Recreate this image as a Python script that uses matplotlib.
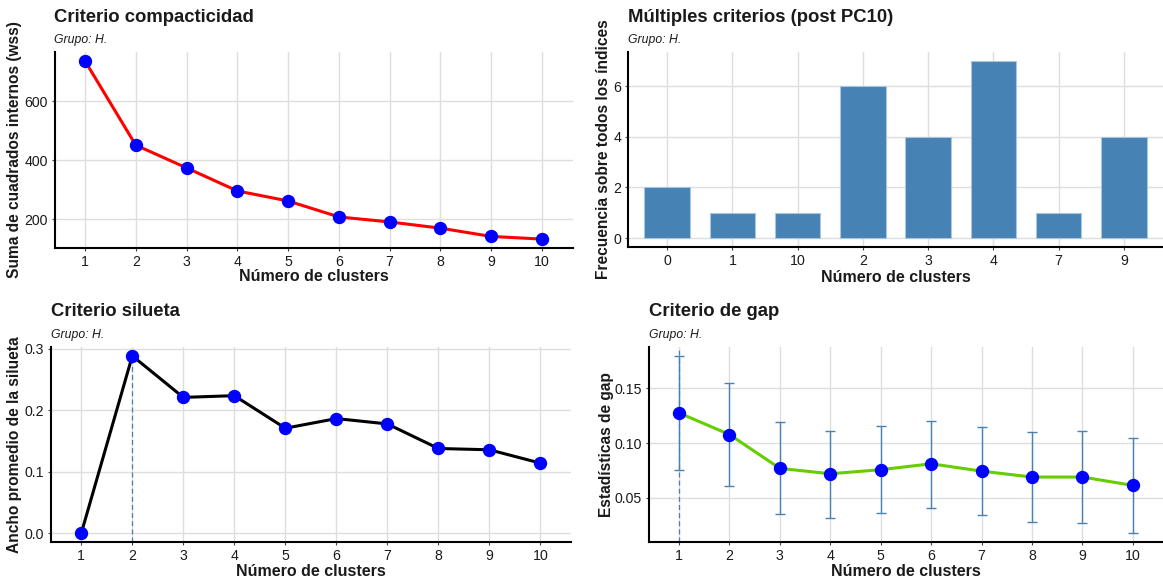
import numpy as np
import matplotlib
matplotlib.use("Agg")
import matplotlib.pyplot as plt

plt.rcParams['font.family'] = ['Liberation Sans', 'DejaVu Sans']

# ---- data ----
k_values = [1, 2, 3, 4, 5, 6, 7, 8, 9, 10]
wss = [736, 451, 374, 296, 262, 208, 191, 170, 142, 133]

nb_categories = ["0", "1", "10", "2", "3", "4", "7", "9"]
nb_counts = [2, 1, 1, 6, 4, 7, 1, 4]

silhouette = [0.0, 0.2886, 0.221, 0.2238, 0.1708, 0.1865, 0.1778, 0.1378, 0.1357, 0.114]
sil_best_k = 2

gap = [0.1276, 0.1079, 0.0770, 0.0721, 0.0758, 0.0812, 0.0745, 0.0691, 0.0691, 0.0615]
gap_low = [0.0752, 0.0606, 0.0352, 0.0318, 0.0361, 0.0412, 0.0345, 0.0285, 0.0270, 0.0179]
gap_high = [0.1797, 0.1552, 0.1194, 0.1115, 0.1161, 0.1206, 0.1148, 0.1100, 0.1109, 0.1048]
gap_best_k = 1

subtitle = "Grupo: H."
xlab = "Número de clusters"

# ---- style ----
W, H = 1163, 581
BLUE = "#0000FF"
STEEL = "#4682B4"
GRID = "#dedede"
TXT = "#1a1a1a"

fig = plt.figure(figsize=(W / 100, H / 100), dpi=100)
fig.patch.set_facecolor("white")


def add_axes_px(left, right, top, bottom):
    return fig.add_axes([left / W, (H - bottom) / H, (right - left) / W, (bottom - top) / H])


def style(ax, title, ylabel, ytop_px, left_px, bottom_px, height_px, ylab_x_px, xlab_y_px):
    ax.set_facecolor("white")
    for s in ("top", "right"):
        ax.spines[s].set_visible(False)
    for s in ("left", "bottom"):
        ax.spines[s].set_linewidth(1.5)
        ax.spines[s].set_color("black")
    ax.grid(True, color=GRID, linewidth=1.0)
    ax.set_axisbelow(True)
    ax.tick_params(axis="both", length=2.5, width=0.8, color="#444444",
                   labelsize=10.2, labelcolor=TXT, pad=2.5)
    ax.set_xlabel(xlab, fontsize=11.5, fontweight="bold", color=TXT)
    ax.set_ylabel(ylabel, fontsize=11.2, fontweight="bold", color=TXT)
    ax.xaxis.set_label_coords(0.5, -(xlab_y_px - bottom_px) / height_px)
    ax.xaxis.label.set_va("center")
    width_px = ax.get_position().width * W
    ax.yaxis.set_label_coords(-(left_px - ylab_x_px) / width_px, 0.5)
    ax.yaxis.label.set_va("center")
    fig.text(left_px / W, 1 - ytop_px / H, title, fontsize=13.3, fontweight="bold",
             color=TXT, ha="left", va="center")
    fig.text(left_px / W, 1 - (ytop_px + 23) / H, subtitle, fontsize=8.8,
             style="italic", color=TXT, ha="left", va="center")


def expand(lo, hi, frac=0.05):
    r = hi - lo
    return lo - frac * r, hi + frac * r


# ---- Panel 1: elbow ----
ax1 = add_axes_px(54.5, 572.5, 52, 248)
ax1.plot(k_values, wss, color="#FF0000", linewidth=2.2, zorder=2)
ax1.plot(k_values, wss, "o", color=BLUE, markersize=8.6, zorder=3)
ax1.set_xlim(0.4, 10.6)
ax1.set_ylim(*expand(min(wss), max(wss)))
ax1.set_xticks(k_values)
ax1.set_yticks([200, 400, 600])
style(ax1, "Criterio compacticidad", "Suma de cuadrados internos (wss)",
      17, 54.5, 248, 196, 15, 277)

# ---- Panel 2: NbClust votes ----
ax2 = add_axes_px(628, 1163, 52, 247)
ax2.bar(nb_categories, nb_counts, width=0.7, color=STEEL,
        edgecolor="#a9c5df", linewidth=0.8, zorder=2)
ax2.set_xlim(-0.6, len(nb_categories) - 0.4)
ax2.set_ylim(*expand(0, max(nb_counts)))
ax2.set_yticks([0, 2, 4, 6])
style(ax2, "Múltiples criterios (post PC10)", "Frecuencia sobre todos los índices",
      17, 628, 247, 195, 604, 277)

# ---- Panel 3: silhouette ----
ax3 = add_axes_px(50.7, 571, 347, 542)
ax3.axvline(sil_best_k, color=STEEL, linestyle=(0, (4, 2.5)), linewidth=0.9, zorder=1)
ax3.plot(k_values, silhouette, color="black", linewidth=2.2, zorder=2)
ax3.plot(k_values, silhouette, "o", color=BLUE, markersize=8.6, zorder=3)
ax3.set_xlim(0.4, 10.6)
ax3.set_ylim(*expand(min(silhouette), max(silhouette)))
ax3.set_xticks(k_values)
ax3.set_yticks([0.0, 0.1, 0.2, 0.3])
ax3.set_yticklabels(["0.0", "0.1", "0.2", "0.3"])
style(ax3, "Criterio silueta", "Ancho promedio de la silueta",
      312, 50.7, 542, 195, 15, 572)

# ---- Panel 4: gap statistic ----
ax4 = add_axes_px(648.8, 1163, 347, 542)
ax4.axvline(gap_best_k, color=STEEL, linestyle=(0, (4, 2.5)), linewidth=0.9, zorder=1)
gap_arr = np.array(gap)
yerr = np.vstack([gap_arr - np.array(gap_low), np.array(gap_high) - gap_arr])
ax4.errorbar(k_values, gap, yerr=yerr, fmt="none", ecolor=STEEL, elinewidth=1.0,
             capsize=3.8, capthick=1.0, zorder=2)
ax4.plot(k_values, gap, color="#66CD00", linewidth=2.2, zorder=3)
ax4.plot(k_values, gap, "o", color=BLUE, markersize=8.6, zorder=4)
ax4.set_xlim(0.4, 10.6)
ax4.set_ylim(*expand(min(gap_low), max(gap_high)))
ax4.set_xticks(k_values)
ax4.set_yticks([0.05, 0.10, 0.15])
ax4.set_yticklabels(["0.05", "0.10", "0.15"])
style(ax4, "Criterio de gap", "Estadísticas de gap",
      312, 648.8, 542, 195, 606, 572)

fig.savefig("out.png", dpi=100, facecolor="white")
